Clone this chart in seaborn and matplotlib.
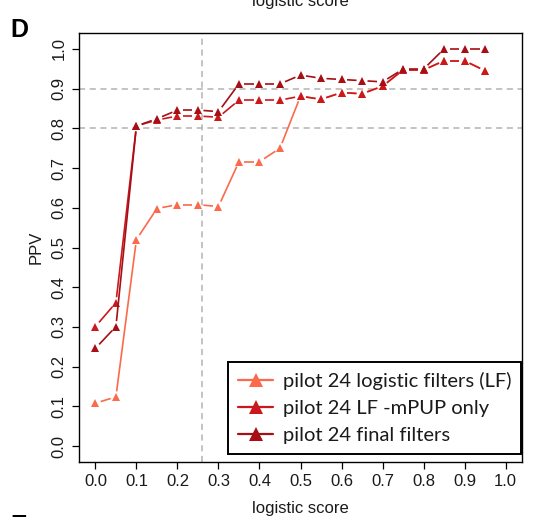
import numpy as np
import pandas as pd
import matplotlib
matplotlib.use("Agg")
import matplotlib.pyplot as plt
from matplotlib.lines import Line2D
from matplotlib.collections import LineCollection
import seaborn as sns

# logistic score thresholds
scores = [0.00, 0.05, 0.10, 0.15, 0.20, 0.25, 0.30, 0.35, 0.40, 0.45,
          0.50, 0.55, 0.60, 0.65, 0.70, 0.75, 0.80, 0.85, 0.90, 0.95]

# PPV per filter set
ppv_lf = [0.108, 0.124, 0.520, 0.598, 0.608, 0.608, 0.603, 0.716, 0.716, 0.750,
          0.881, 0.873, 0.890, 0.887, 0.906, 0.947, 0.947, 0.970, 0.970, 0.945]
ppv_lf_mpup = [0.301, 0.361, 0.806, 0.821, 0.831, 0.831, 0.828, 0.871, 0.871, 0.871,
               0.881, 0.873, 0.890, 0.887, 0.906, 0.947, 0.947, 0.970, 0.970, 0.945]
ppv_final = [0.246, 0.301, 0.806, 0.824, 0.846, 0.846, 0.842, 0.912, 0.912, 0.912,
             0.934, 0.926, 0.923, 0.920, 0.917, 0.949, 0.949, 1.000, 1.000, 1.000]

series_names = ["pilot 24 logistic filters (LF)",
                "pilot 24 LF -mPUP only",
                "pilot 24 final filters"]
series_values = [ppv_lf, ppv_lf_mpup, ppv_final]
series_colors = ["#FB6A4A", "#CB181D", "#A50F15"]

x_ticks = [0.0, 0.1, 0.2, 0.3, 0.4, 0.5, 0.6, 0.7, 0.8, 0.9, 1.0]
y_ticks = [0.0, 0.1, 0.2, 0.3, 0.4, 0.5, 0.6, 0.7, 0.8, 0.9, 1.0]
ppv_guides = [0.8, 0.9]
score_cutoff = 0.26

sns.set_theme(style="white")
plt.rcParams["font.family"] = ["Liberation Sans", "DejaVu Sans"]

df = pd.concat(
    [pd.DataFrame({"score": scores, "PPV": vals, "series": name})
     for name, vals in zip(series_names, series_values)],
    ignore_index=True,
)

DPI = 100
fig = plt.figure(figsize=(5.34, 5.17), dpi=DPI)
ax = fig.add_axes([79 / 534, 55 / 517, 443 / 534, 429 / 517])
ax.set_xlim(-0.04, 1.04)
ax.set_ylim(-0.04, 1.04)

# guide lines
guide_kw = dict(color="#b3b3b3", lw=1.1, ls=(0, (4, 3)), zorder=1)
for g in ppv_guides:
    ax.axhline(g, **guide_kw)
ax.axvline(score_cutoff, **guide_kw)

# each series: points drawn by seaborn, joined by segments that stop short of
# the points (like R's type = "b")
gap_px = 5.5
for i, (name, color) in enumerate(zip(series_names, series_colors)):
    sub = df[df["series"] == name]
    n_before = len(ax.lines)
    sns.lineplot(data=sub, x="score", y="PPV", ax=ax, color=color,
                 marker="^", markersize=5.5, markeredgewidth=0,
                 linewidth=1.2, legend=False, errorbar=None, sort=True)
    line = ax.lines[n_before]
    line.set_zorder(2.05 + i * 0.1)
    xy = np.column_stack(line.get_data())
    disp = ax.transData.transform(xy)
    segs = []
    for p0, p1 in zip(disp[:-1], disp[1:]):
        d = p1 - p0
        L = np.hypot(*d)
        if L <= 2 * gap_px:
            continue
        u = d / L
        a = p0 + u * gap_px
        b = p1 - u * gap_px
        segs.append(ax.transData.inverted().transform(np.vstack([a, b])))
    ax.add_collection(LineCollection(segs, colors=color, linewidths=1.2,
                                     zorder=2.0 + i * 0.1, capstyle="butt"))
    line.set_linestyle("None")

ax.set_xlim(-0.04, 1.04)
ax.set_ylim(-0.04, 1.04)

ax.set_xticks(x_ticks)
ax.set_xticklabels([f"{t:.1f}" for t in x_ticks])
ax.set_yticks(y_ticks)
ax.set_yticklabels([f"{t:.1f}" for t in y_ticks], rotation=90, va="center")
ax.tick_params(axis="both", direction="out", length=5, width=0.9,
               color="black", labelsize=12, labelcolor="#1a1a1a", pad=4,
               bottom=True, left=True)
for sp in ax.spines.values():
    sp.set_color("black")
    sp.set_linewidth(1.0)

ax.set_xlabel("logistic score", fontsize=12, labelpad=8, color="#1a1a1a")
ax.set_ylabel("PPV", fontsize=12, labelpad=6, color="#1a1a1a")

handles = [Line2D([0], [0], color=c, lw=1.6, marker="^", markersize=10,
                  markeredgewidth=0) for c in series_colors]
leg = ax.legend(handles, series_names, loc="lower right",
                bbox_to_anchor=(0.998, 0.019), borderaxespad=0,
                frameon=True, fancybox=False, framealpha=1,
                prop={"family": "Lato", "size": 14.5},
                handlelength=1.75, handletextpad=0.45, labelspacing=0.48,
                borderpad=0.5)
leg.get_frame().set_edgecolor("black")
leg.get_frame().set_linewidth(1.4)
for t in leg.get_texts():
    t.set_color("#1a1a1a")

# panel letters and the neighbouring panel's axis title at the top edge
fig.text(10 / 534, 1 - 37 / 517, "D", fontsize=18, fontweight="bold",
         color="black", ha="left", va="baseline")
fig.text(300 / 534, 1 - 6 / 517, "logistic score", fontsize=12,
         color="#1a1a1a", ha="center", va="baseline")
fig.text(10 / 534, 1 - 533 / 517, "E", fontsize=18, fontweight="bold",
         color="black", ha="left", va="baseline")

fig.savefig("out.png", dpi=DPI)
